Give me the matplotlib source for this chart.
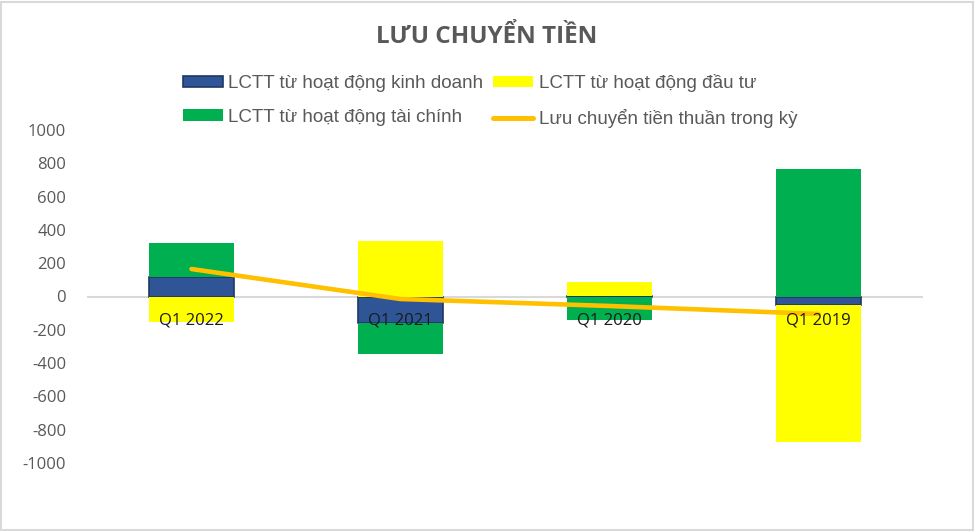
import matplotlib
matplotlib.use("Agg")
import matplotlib.pyplot as plt
import numpy as np
from matplotlib.patches import Rectangle

categories = ["Q1 2022", "Q1 2021", "Q1 2020", "Q1 2019"]
kinh_doanh = [120, -162, 5, -52]
dau_tu = [-156, 336, 80, -824]
tai_chinh = [200, -186, -142, 768]
thuan = [165, -15, -57, -105]

series_names = ["LCTT từ hoạt động kinh doanh", "LCTT từ hoạt động đầu tư",
                "LCTT từ hoạt động tài chính", "Lưu chuyển tiền thuần trong kỳ"]
yticks = [1000, 800, 600, 400, 200, 0, -200, -400, -600, -800, -1000]

W, H = 975, 531
fig = plt.figure(figsize=(W / 100, H / 100), dpi=100)
ax = fig.add_axes([87 / W, 1 - 463 / H, 836 / W, 333 / H])

x = np.arange(len(categories))
bw = 0.41
pos_base = np.zeros(len(categories))
neg_base = np.zeros(len(categories))
styles = [
    dict(color="#2F5597", edgecolor="#1F3864", linewidth=1.2),
    dict(color="#FFFF00", edgecolor="none", linewidth=0),
    dict(color="#00B050", edgecolor="none", linewidth=0),
]
handles = []
for vals, st, name in zip([kinh_doanh, dau_tu, tai_chinh], styles, series_names[:3]):
    vals = np.array(vals, dtype=float)
    bottoms = np.where(vals >= 0, pos_base, neg_base)
    b = ax.bar(x, vals, bw, bottom=bottoms, zorder=2, label=name, **st)
    handles.append(b)
    pos_base = pos_base + np.where(vals >= 0, vals, 0)
    neg_base = neg_base + np.where(vals < 0, vals, 0)

ln, = ax.plot(x, thuan, color="#FFC000", linewidth=3.3, solid_capstyle="round",
              zorder=3, label=series_names[3])

ax.axhline(0, color="#D9D9D9", linewidth=1.5, zorder=1)
ax.set_xlim(-0.5, len(categories) - 0.5)
ax.set_ylim(-1000, 1000)
ax.set_yticks(yticks)
ax.set_yticklabels([str(v) for v in yticks], fontfamily="Open Sans",
                   fontsize=12, color="#595959")
ax.tick_params(axis="y", length=0, pad=15)
ax.set_xticks([])
for s in ax.spines.values():
    s.set_visible(False)

for i, c in enumerate(categories):
    ax.annotate(c, xy=(i, 0), xytext=(0, -17.5), textcoords="offset points",
                ha="center", va="center", fontfamily="Open Sans", fontsize=12,
                color="#1A1A1A", zorder=5)

fig.text(487 / W, 1 - 43 / H, "LƯU CHUYỂN TIỀN", ha="center", va="baseline",
         fontfamily="Open Sans", fontweight="bold", fontsize=17.5, color="#595959")

order = [handles[0], handles[2], handles[1], ln]
labels = [series_names[0], series_names[2], series_names[1], series_names[3]]
leg = fig.legend(order, labels, ncol=2, loc="center",
                 bbox_to_anchor=(490 / W, 1 - 101 / H), frameon=False,
                 prop=dict(family="Liberation Sans", size=13.5),
                 handlelength=2.13, handleheight=0.6, handletextpad=0.3,
                 columnspacing=0.53, labelspacing=0.9, borderpad=0)
for t in leg.get_texts():
    t.set_color("#595959")
for l in leg.get_lines():
    l.set_linewidth(3.6)

fig.patches.append(Rectangle((0.001, 0.002), 0.997, 0.995, transform=fig.transFigure,
                             fill=False, edgecolor="#D9D9D9", linewidth=1.5))

fig.savefig("out.png", dpi=100, facecolor="white")
